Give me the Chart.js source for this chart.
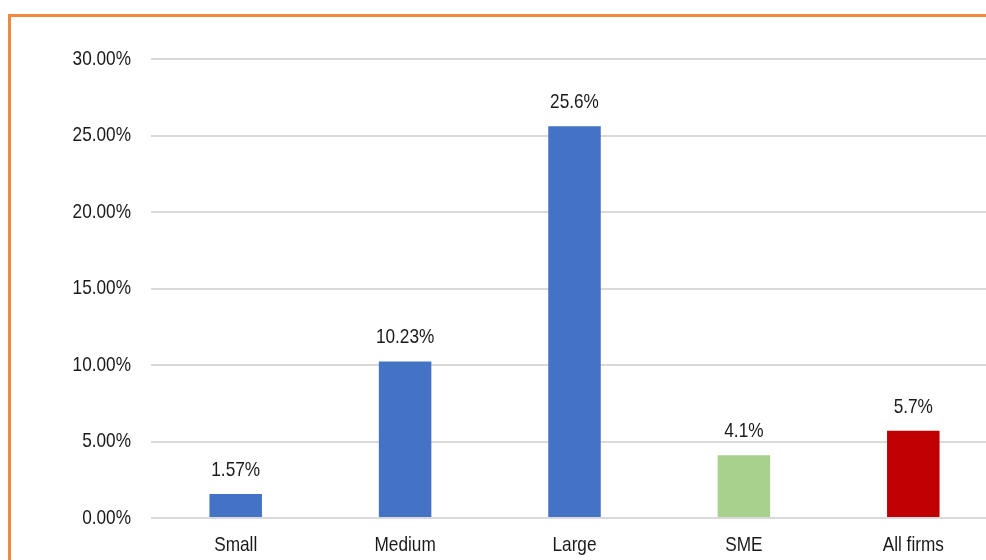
<!DOCTYPE html>
<html>
<head>
<meta charset="utf-8">
<script src="https://cdn.jsdelivr.net/npm/chart.js@4"></script>
<style>
  html, body { margin: 0; padding: 0; background: #fff; overflow: hidden; }
  #frame {
    position: absolute; left: 8px; top: 14px;
    width: 1100px; height: 700px;
    border: 3px solid #F0883E;
  }
  #chart { position: absolute; left: 0; top: 0; }
</style>
</head>
<body>
<div id="frame"></div>
<canvas id="chart" width="1000" height="560"></canvas>
<script>
// Firm size categories and their values (percent)
const categories = ["Small", "Medium", "Large", "SME", "All firms"];
const values = [1.57, 10.23, 25.6, 4.1, 5.7];
const valueLabels = ["1.57%", "10.23%", "25.6%", "4.1%", "5.7%"];
const barColors = ["#4472C4", "#4472C4", "#4472C4", "#A9D18E", "#C00000"];
const yTicks = [0, 5, 10, 15, 20, 25, 30];

const FONT = "21px 'Liberation Sans', Arial, sans-serif";
const NARROW = 0.82; // squeeze text like Arial Narrow
const TEXT_COLOR = "#1a1a1a";

function narrowText(ctx, text, x, y, align) {
  ctx.save();
  ctx.translate(x, y);
  ctx.scale(NARROW, 1);
  ctx.textAlign = align;
  ctx.fillText(text, 0, 0);
  ctx.restore();
}

// axis labels and value labels, all drawn narrow
const labelPlugin = {
  id: "narrowLabels",
  afterDatasetsDraw(chart) {
    const ctx = chart.ctx;
    const xs = chart.scales.x, ys = chart.scales.y;
    ctx.save();
    ctx.font = FONT;
    ctx.fillStyle = TEXT_COLOR;
    ctx.textBaseline = "middle";
    yTicks.forEach(v => {
      narrowText(ctx, v.toFixed(2) + "%", ys.right - 20, ys.getPixelForValue(v), "right");
    });
    categories.forEach((c, i) => {
      narrowText(ctx, c, xs.getPixelForValue(i), xs.top + 27, "center");
    });
    chart.getDatasetMeta(0).data.forEach((bar, i) => {
      narrowText(ctx, valueLabels[i], bar.x, bar.y - 24, "center");
    });
    ctx.restore();
  }
};

new Chart(document.getElementById("chart"), {
  type: "bar",
  data: {
    labels: categories,
    datasets: [{
      data: values,
      backgroundColor: barColors,
      categoryPercentage: 1,
      barPercentage: 0.31
    }]
  },
  options: {
    responsive: false,
    animation: false,
    devicePixelRatio: 1,
    layout: { padding: { top: 59, right: 2, bottom: 0, left: 0 } },
    plugins: { legend: { display: false }, tooltip: { enabled: false } },
    scales: {
      x: {
        afterFit: scale => { scale.height = 42; },
        grid: { display: false },
        border: { display: false },
        ticks: { display: false }
      },
      y: {
        min: 0,
        max: 30,
        afterBuildTicks: scale => { scale.ticks = yTicks.map(v => ({ value: v })); },
        afterFit: scale => { scale.width = 151; },
        grid: { color: "#d9d9d9", lineWidth: 2, drawTicks: false },
        border: { display: false },
        ticks: { display: false }
      }
    }
  },
  plugins: [labelPlugin]
});
</script>
</body>
</html>
